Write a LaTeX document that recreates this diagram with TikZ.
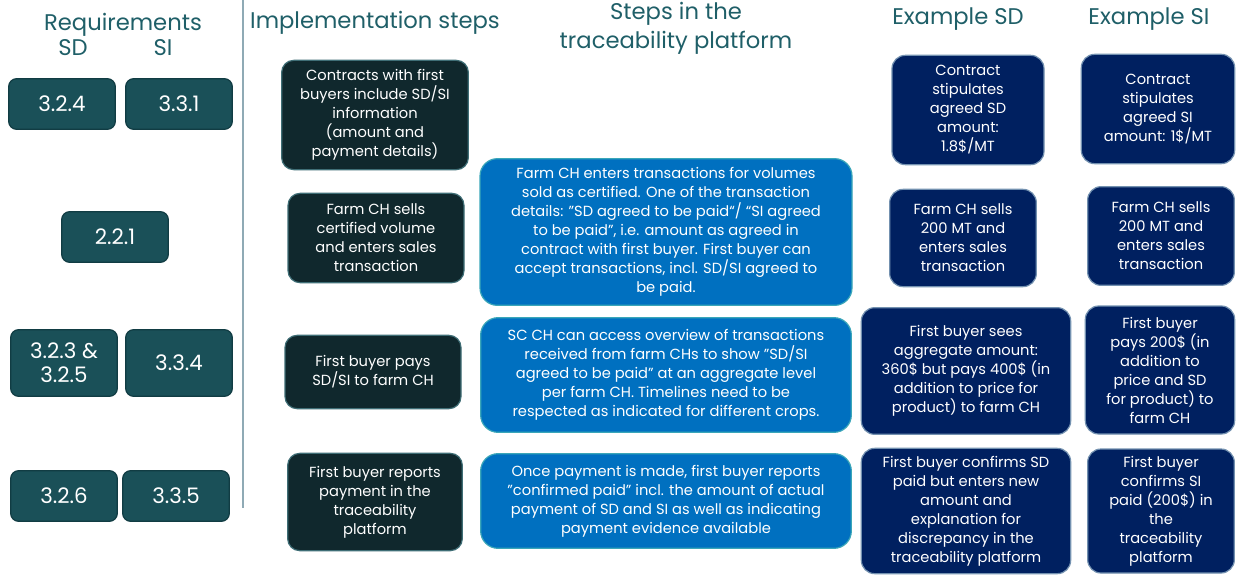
\documentclass[tikz,border=0pt]{standalone}
\usepackage{fontspec}
\setmainfont{Poppins}
\usetikzlibrary{positioning}
\definecolor{headteal}{HTML}{1F5F68}
\definecolor{reqfill}{HTML}{1A5058}
\definecolor{reqedge}{HTML}{113C43}
\definecolor{implfill}{HTML}{10282D}
\definecolor{impledge}{HTML}{3F6E76}
\definecolor{platfill}{HTML}{0070C0}
\definecolor{platedge}{HTML}{3AA6B9}
\definecolor{exfill}{HTML}{002060}
\definecolor{exedge}{HTML}{7391B0}
\definecolor{divline}{HTML}{8FAAB5}
\tikzset{
    header/.style = {text=headteal, align=center, inner sep=0pt,
        font=\fontsize{17}{21.5}\selectfont},
    box/.style = {rectangle, text=white, align=center, inner sep=0pt,
        line width=0.9pt, font=\fontsize{11}{14.25}\selectfont},
    reqbox/.style = {box, draw=reqedge, fill=reqfill, rounded corners=6pt,
        minimum width=80pt, minimum height=38pt,
        font=\fontsize{16}{18}\selectfont},
    implbox/.style = {box, draw=impledge, fill=implfill, rounded corners=9pt},
    platbox/.style = {box, draw=platedge, fill=platfill, rounded corners=13pt},
    exbox/.style = {box, draw=exedge, fill=exfill, rounded corners=10pt},
    size/.style 2 args = {minimum width=#1pt, minimum height=#2pt}
}
\begin{document}
\begin{tikzpicture}[x=0.75pt, y=-0.75pt]
    \useasboundingbox [fill=white] (0,0) rectangle (1236,575);
    % column headers
    \node [header] (hreq) at (123,25) {Requirements};
    \node [header] (hsd) at (73,48) {SD};
    \node [header] (hsi) at (163,48) {SI};
    \node [header] (himpl) at (375,23) {Implementation steps};
    \node [header] (hplat) at (676,28) {Steps in the\\traceability platform};
    \node [header] (hexsd) at (958,19) {Example SD};
    \node [header] (hexsi) at (1149,19) {Example SI};
    % divider
    \coordinate (divtop) at (243,0);
    \coordinate (divbot) at (243,508);
    \draw [divline, line width=1pt] (divtop) -- (divbot);
    % requirements
    \node [reqbox] (req1sd) at (62,104) {3.2.4};
    \node [reqbox] (req1si) at (179,104) {3.3.1};
    \node [reqbox] (req2) at (115,237) {2.2.1};
    \node [reqbox, minimum height=50pt, font=\fontsize{16}{18}\selectfont] (req3sd) at (64,363) {3.2.3 \&\\3.2.5};
    \node [reqbox, minimum height=50pt] (req3si) at (179,363) {3.3.4};
    \node [reqbox] (req4sd) at (64,496) {3.2.6};
    \node [reqbox] (req4si) at (176,496) {3.3.5};
    % implementation steps
    \node [implbox, size={140}{82}] (impl1) at (375,115)
        {Contracts with first\\buyers include SD/SI\\information\\(amount and\\payment details)};
    \node [implbox, size={132}{67}] (impl2) at (376,238)
        {Farm CH sells\\certified volume\\and enters sales\\transaction};
    \node [implbox, size={132}{55}] (impl3) at (373,372)
        {First buyer pays\\SD/SI to farm CH};
    \node [implbox, size={131}{73}] (impl4) at (375,502)
        {First buyer reports\\payment in the\\traceability\\platform};
    % traceability platform
    \node [platbox, size={279}{110}] (plat1) at (666,232)
        {Farm CH enters transactions for volumes\\sold as certified. One of the transaction\\details: "SD agreed to be paid“/ “SI agreed\\to be paid", i.e. amount as agreed in\\contract with first buyer. First buyer can\\accept transactions, incl. SD/SI agreed to\\be paid.};
    \node [platbox, size={278}{86}] (plat2) at (666,375)
        {SC CH can access overview of transactions\\received from farm CHs to show "SD/SI\\agreed to be paid" at an aggregate level\\per farm CH. Timelines need to be\\respected as indicated for different crops.};
    \node [platbox, size={278}{71}] (plat3) at (666,501)
        {Once payment is made, first buyer reports\\"confirmed paid" incl. the amount of actual\\payment of SD and SI as well as indicating\\payment evidence available};
    % example SD
    \node [exbox, size={114}{82}] (exsd1) at (968,110)
        {Contract\\stipulates\\agreed SD\\amount:\\1.8\$/MT};
    \node [exbox, size={110}{73}] (exsd2) at (963,238)
        {Farm CH sells\\200 MT and\\enters sales\\transaction};
    \node [exbox, size={157}{95}] (exsd3) at (966,371)
        {First buyer sees\\aggregate amount:\\360\$ but pays 400\$ (in\\addition to price for\\product) to farm CH};
    \node [exbox, size={157}{94}] (exsd4) at (966,511)
        {First buyer confirms SD\\paid but enters new\\amount and\\explanation for\\discrepancy in the\\traceability platform};
    % example SI
    \node [exbox, size={115}{82}] (exsi1) at (1158,109)
        {Contract\\stipulates\\agreed SI\\amount: 1\$/MT};
    \node [exbox, size={110}{74}] (exsi2) at (1161,236)
        {Farm CH sells\\200 MT and\\enters sales\\transaction};
    \node [exbox, size={112}{96}] (exsi3) at (1160,370)
        {First buyer\\pays 200\$ (in\\addition to\\price and SD\\for product) to\\farm CH};
    \node [exbox, size={110}{93}] (exsi4) at (1161,511)
        {First buyer\\confirms SI\\paid (200\$) in\\the\\traceability\\platform};
\end{tikzpicture}
\end{document}
